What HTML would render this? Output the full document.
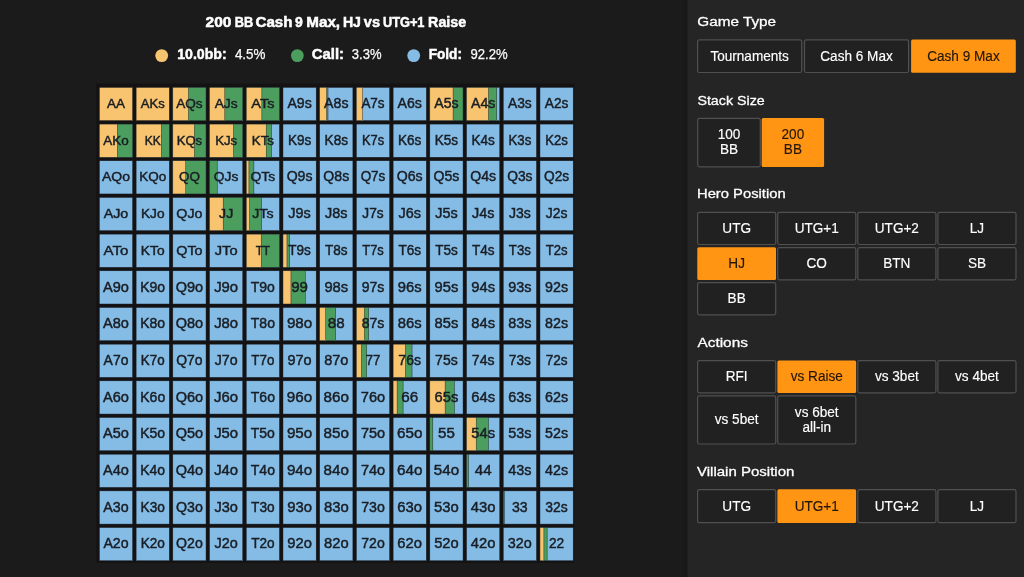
<!DOCTYPE html>
<html><head><meta charset="utf-8"><title>Range viewer</title>
<style>
html,body{margin:0;padding:0;}
body{width:1024px;height:577px;overflow:hidden;background:#1b1b1b;position:relative;font-family:"Liberation Sans",sans-serif;}
svg{position:absolute;left:0;top:0;display:block;}
text{font-family:"Liberation Sans",sans-serif;white-space:pre;}
</style></head><body>
<svg width="1024" height="577" viewBox="0 0 1024 577">
<rect x="0" y="0" width="1024" height="577" fill="#1b1b1b"/>
<defs><linearGradient id="sh" x1="0" x2="1" y1="0" y2="0"><stop offset="0" stop-color="#1b1b1b"/><stop offset="0.5" stop-color="#191919"/><stop offset="1" stop-color="#171717"/></linearGradient></defs>
<rect x="680.5" y="0" width="7" height="577" fill="url(#sh)"/>
<rect x="687.4" y="0" width="336.6" height="577" fill="#252525"/>
<g font-weight="bold" font-size="13.8" fill="#fff" stroke="#fff" stroke-width="0.5"><text y="26.6"><tspan x="205.55" textLength="25.85" lengthAdjust="spacingAndGlyphs">200</tspan> <tspan x="234.70" textLength="18.50" lengthAdjust="spacingAndGlyphs">BB</tspan> <tspan x="255.50" textLength="37.00" lengthAdjust="spacingAndGlyphs">Cash</tspan> <tspan x="295.10" textLength="7.80" lengthAdjust="spacingAndGlyphs">9</tspan> <tspan x="306.30" textLength="33.80" lengthAdjust="spacingAndGlyphs">Max,</tspan> <tspan x="342.90" textLength="18.00" lengthAdjust="spacingAndGlyphs">HJ</tspan> <tspan x="363.80" textLength="16.20" lengthAdjust="spacingAndGlyphs">vs</tspan> <tspan x="382.90" textLength="41.60" lengthAdjust="spacingAndGlyphs">UTG+1</tspan> <tspan x="428.10" textLength="38.10" lengthAdjust="spacingAndGlyphs">Raise</tspan></text></g>
<circle cx="161.7" cy="55.6" r="6.4" fill="#f8c470"/><circle cx="297.35" cy="55.6" r="6.4" fill="#4b9e5e"/><circle cx="413.7" cy="55.6" r="6.4" fill="#84bce6"/>
<g font-weight="bold" font-size="13.8" fill="#fff" stroke="#fff" stroke-width="0.45"><text x="177.20" y="59.4" textLength="49.50" lengthAdjust="spacingAndGlyphs">10.0bb:</text><text x="311.80" y="59.4" textLength="32.20" lengthAdjust="spacingAndGlyphs">Call:</text><text x="428.70" y="59.4" textLength="33.30" lengthAdjust="spacingAndGlyphs">Fold:</text></g>
<g font-size="14.6" fill="#fafafa" stroke="#fafafa" stroke-width="0.25"><text x="234.90" y="59.4" textLength="30.60" lengthAdjust="spacingAndGlyphs">4.5%</text><text x="351.80" y="59.4" textLength="29.70" lengthAdjust="spacingAndGlyphs">3.3%</text><text x="470.50" y="59.4" textLength="37.20" lengthAdjust="spacingAndGlyphs">92.2%</text></g>
<rect x="96.4" y="83.6" width="477.8" height="479.2" fill="#141212"/>
<g font-size="13.1" text-anchor="middle" fill="#1a1e24" stroke="#1a1e24" stroke-width="0.45">
<rect x="99.40" y="87.40" width="33.2" height="33.2" fill="#f8c470"/><text x="116.00" y="108.10" textLength="17.97" lengthAdjust="spacingAndGlyphs">AA</text>
<rect x="136.12" y="87.40" width="33.2" height="33.2" fill="#f8c470"/><text x="152.72" y="108.10" textLength="23.92" lengthAdjust="spacingAndGlyphs">AKs</text>
<rect x="172.83" y="87.40" width="33.2" height="33.2" fill="#84bce6"/><rect x="172.83" y="87.40" width="33.20" height="33.2" fill="#4b9e5e"/><rect x="172.83" y="87.40" width="15.60" height="33.2" fill="#f8c470"/><text x="189.43" y="108.10" textLength="26.44" lengthAdjust="spacingAndGlyphs">AQs</text>
<rect x="209.55" y="87.40" width="33.2" height="33.2" fill="#84bce6"/><rect x="209.55" y="87.40" width="33.20" height="33.2" fill="#4b9e5e"/><rect x="209.55" y="87.40" width="15.27" height="33.2" fill="#f8c470"/><text x="226.15" y="108.10" textLength="23.01" lengthAdjust="spacingAndGlyphs">AJs</text>
<rect x="246.26" y="87.40" width="33.2" height="33.2" fill="#84bce6"/><rect x="246.26" y="87.40" width="33.20" height="33.2" fill="#4b9e5e"/><rect x="246.26" y="87.40" width="15.60" height="33.2" fill="#f8c470"/><text x="262.86" y="108.10" textLength="23.15" lengthAdjust="spacingAndGlyphs">ATs</text>
<rect x="282.98" y="87.40" width="33.2" height="33.2" fill="#84bce6"/><text x="299.58" y="108.10" textLength="24.34" lengthAdjust="spacingAndGlyphs" font-size="13.8">A9s</text>
<rect x="319.69" y="87.40" width="33.2" height="33.2" fill="#84bce6"/><rect x="319.69" y="87.40" width="8.30" height="33.2" fill="#4b9e5e"/><rect x="319.69" y="87.40" width="6.97" height="33.2" fill="#f8c470"/><text x="336.29" y="108.10" textLength="24.35" lengthAdjust="spacingAndGlyphs" font-size="13.8">A8s</text>
<rect x="356.40" y="87.40" width="33.2" height="33.2" fill="#84bce6"/><rect x="356.40" y="87.40" width="6.31" height="33.2" fill="#f8c470"/><text x="373.00" y="108.10" textLength="23.22" lengthAdjust="spacingAndGlyphs" font-size="13.8">A7s</text>
<rect x="393.12" y="87.40" width="33.2" height="33.2" fill="#84bce6"/><text x="409.72" y="108.10" textLength="24.41" lengthAdjust="spacingAndGlyphs" font-size="13.8">A6s</text>
<rect x="429.84" y="87.40" width="33.2" height="33.2" fill="#84bce6"/><rect x="429.84" y="87.40" width="33.20" height="33.2" fill="#4b9e5e"/><rect x="429.84" y="87.40" width="23.24" height="33.2" fill="#f8c470"/><text x="446.44" y="108.10" textLength="24.31" lengthAdjust="spacingAndGlyphs" font-size="13.8">A5s</text>
<rect x="466.55" y="87.40" width="33.2" height="33.2" fill="#84bce6"/><rect x="466.55" y="87.40" width="30.21" height="33.2" fill="#4b9e5e"/><rect x="466.55" y="87.40" width="21.91" height="33.2" fill="#f8c470"/><text x="483.15" y="108.10" textLength="24.32" lengthAdjust="spacingAndGlyphs" font-size="13.8">A4s</text>
<rect x="503.26" y="87.40" width="33.2" height="33.2" fill="#84bce6"/><text x="519.87" y="108.10" textLength="23.79" lengthAdjust="spacingAndGlyphs" font-size="13.8">A3s</text>
<rect x="539.98" y="87.40" width="33.2" height="33.2" fill="#84bce6"/><text x="556.58" y="108.10" textLength="23.60" lengthAdjust="spacingAndGlyphs" font-size="13.8">A2s</text>
<rect x="99.40" y="124.08" width="33.2" height="33.2" fill="#84bce6"/><rect x="99.40" y="124.08" width="33.20" height="33.2" fill="#4b9e5e"/><rect x="99.40" y="124.08" width="17.93" height="33.2" fill="#f8c470"/><text x="116.00" y="144.78" textLength="25.50" lengthAdjust="spacingAndGlyphs">AKo</text>
<rect x="136.12" y="124.08" width="33.2" height="33.2" fill="#84bce6"/><rect x="136.12" y="124.08" width="33.20" height="33.2" fill="#4b9e5e"/><rect x="136.12" y="124.08" width="25.23" height="33.2" fill="#f8c470"/><text x="152.72" y="144.78" textLength="15.97" lengthAdjust="spacingAndGlyphs">KK</text>
<rect x="172.83" y="124.08" width="33.2" height="33.2" fill="#84bce6"/><rect x="172.83" y="124.08" width="33.20" height="33.2" fill="#4b9e5e"/><rect x="172.83" y="124.08" width="21.58" height="33.2" fill="#f8c470"/><text x="189.43" y="144.78" textLength="25.44" lengthAdjust="spacingAndGlyphs">KQs</text>
<rect x="209.55" y="124.08" width="33.2" height="33.2" fill="#84bce6"/><rect x="209.55" y="124.08" width="33.20" height="33.2" fill="#4b9e5e"/><rect x="209.55" y="124.08" width="23.90" height="33.2" fill="#f8c470"/><text x="226.15" y="144.78" textLength="22.01" lengthAdjust="spacingAndGlyphs">KJs</text>
<rect x="246.26" y="124.08" width="33.2" height="33.2" fill="#84bce6"/><rect x="246.26" y="124.08" width="25.23" height="33.2" fill="#4b9e5e"/><rect x="246.26" y="124.08" width="19.92" height="33.2" fill="#f8c470"/><text x="262.86" y="144.78" textLength="22.15" lengthAdjust="spacingAndGlyphs">KTs</text>
<rect x="282.98" y="124.08" width="33.2" height="33.2" fill="#84bce6"/><text x="299.58" y="144.78" textLength="23.34" lengthAdjust="spacingAndGlyphs" font-size="13.8">K9s</text>
<rect x="319.69" y="124.08" width="33.2" height="33.2" fill="#84bce6"/><text x="336.29" y="144.78" textLength="23.35" lengthAdjust="spacingAndGlyphs" font-size="13.8">K8s</text>
<rect x="356.40" y="124.08" width="33.2" height="33.2" fill="#84bce6"/><text x="373.00" y="144.78" textLength="22.22" lengthAdjust="spacingAndGlyphs" font-size="13.8">K7s</text>
<rect x="393.12" y="124.08" width="33.2" height="33.2" fill="#84bce6"/><text x="409.72" y="144.78" textLength="23.41" lengthAdjust="spacingAndGlyphs" font-size="13.8">K6s</text>
<rect x="429.84" y="124.08" width="33.2" height="33.2" fill="#84bce6"/><text x="446.44" y="144.78" textLength="23.31" lengthAdjust="spacingAndGlyphs" font-size="13.8">K5s</text>
<rect x="466.55" y="124.08" width="33.2" height="33.2" fill="#84bce6"/><text x="483.15" y="144.78" textLength="23.32" lengthAdjust="spacingAndGlyphs" font-size="13.8">K4s</text>
<rect x="503.26" y="124.08" width="33.2" height="33.2" fill="#84bce6"/><text x="519.87" y="144.78" textLength="22.79" lengthAdjust="spacingAndGlyphs" font-size="13.8">K3s</text>
<rect x="539.98" y="124.08" width="33.2" height="33.2" fill="#84bce6"/><text x="556.58" y="144.78" textLength="22.60" lengthAdjust="spacingAndGlyphs" font-size="13.8">K2s</text>
<rect x="99.40" y="160.76" width="33.2" height="33.2" fill="#84bce6"/><text x="116.00" y="181.46" textLength="28.02" lengthAdjust="spacingAndGlyphs">AQo</text>
<rect x="136.12" y="160.76" width="33.2" height="33.2" fill="#84bce6"/><text x="152.72" y="181.46" textLength="27.02" lengthAdjust="spacingAndGlyphs">KQo</text>
<rect x="172.83" y="160.76" width="33.2" height="33.2" fill="#84bce6"/><rect x="172.83" y="160.76" width="33.20" height="33.2" fill="#4b9e5e"/><rect x="172.83" y="160.76" width="12.95" height="33.2" fill="#f8c470"/><text x="189.43" y="181.46" textLength="21.01" lengthAdjust="spacingAndGlyphs">QQ</text>
<rect x="209.55" y="160.76" width="33.2" height="33.2" fill="#84bce6"/><rect x="209.55" y="160.76" width="7.64" height="33.2" fill="#4b9e5e"/><text x="226.15" y="181.46" textLength="24.52" lengthAdjust="spacingAndGlyphs">QJs</text>
<rect x="246.26" y="160.76" width="33.2" height="33.2" fill="#84bce6"/><rect x="246.26" y="160.76" width="7.64" height="33.2" fill="#4b9e5e"/><rect x="246.26" y="160.76" width="2.66" height="33.2" fill="#f8c470"/><text x="262.86" y="181.46" textLength="24.67" lengthAdjust="spacingAndGlyphs">QTs</text>
<rect x="282.98" y="160.76" width="33.2" height="33.2" fill="#84bce6"/><text x="299.58" y="181.46" textLength="25.86" lengthAdjust="spacingAndGlyphs" font-size="13.8">Q9s</text>
<rect x="319.69" y="160.76" width="33.2" height="33.2" fill="#84bce6"/><text x="336.29" y="181.46" textLength="25.87" lengthAdjust="spacingAndGlyphs" font-size="13.8">Q8s</text>
<rect x="356.40" y="160.76" width="33.2" height="33.2" fill="#84bce6"/><text x="373.00" y="181.46" textLength="24.74" lengthAdjust="spacingAndGlyphs" font-size="13.8">Q7s</text>
<rect x="393.12" y="160.76" width="33.2" height="33.2" fill="#84bce6"/><text x="409.72" y="181.46" textLength="25.92" lengthAdjust="spacingAndGlyphs" font-size="13.8">Q6s</text>
<rect x="429.84" y="160.76" width="33.2" height="33.2" fill="#84bce6"/><text x="446.44" y="181.46" textLength="25.83" lengthAdjust="spacingAndGlyphs" font-size="13.8">Q5s</text>
<rect x="466.55" y="160.76" width="33.2" height="33.2" fill="#84bce6"/><text x="483.15" y="181.46" textLength="25.84" lengthAdjust="spacingAndGlyphs" font-size="13.8">Q4s</text>
<rect x="503.26" y="160.76" width="33.2" height="33.2" fill="#84bce6"/><text x="519.87" y="181.46" textLength="25.31" lengthAdjust="spacingAndGlyphs" font-size="13.8">Q3s</text>
<rect x="539.98" y="160.76" width="33.2" height="33.2" fill="#84bce6"/><text x="556.58" y="181.46" textLength="25.12" lengthAdjust="spacingAndGlyphs" font-size="13.8">Q2s</text>
<rect x="99.40" y="197.44" width="33.2" height="33.2" fill="#84bce6"/><text x="116.00" y="218.14" textLength="24.58" lengthAdjust="spacingAndGlyphs">AJo</text>
<rect x="136.12" y="197.44" width="33.2" height="33.2" fill="#84bce6"/><text x="152.72" y="218.14" textLength="23.58" lengthAdjust="spacingAndGlyphs">KJo</text>
<rect x="172.83" y="197.44" width="33.2" height="33.2" fill="#84bce6"/><text x="189.43" y="218.14" textLength="26.10" lengthAdjust="spacingAndGlyphs">QJo</text>
<rect x="209.55" y="197.44" width="33.2" height="33.2" fill="#84bce6"/><rect x="209.55" y="197.44" width="33.20" height="33.2" fill="#4b9e5e"/><rect x="209.55" y="197.44" width="13.61" height="33.2" fill="#f8c470"/><text x="226.15" y="218.14" textLength="14.13" lengthAdjust="spacingAndGlyphs">JJ</text>
<rect x="246.26" y="197.44" width="33.2" height="33.2" fill="#84bce6"/><rect x="246.26" y="197.44" width="15.27" height="33.2" fill="#4b9e5e"/><rect x="246.26" y="197.44" width="3.32" height="33.2" fill="#f8c470"/><text x="262.86" y="218.14" textLength="21.23" lengthAdjust="spacingAndGlyphs">JTs</text>
<rect x="282.98" y="197.44" width="33.2" height="33.2" fill="#84bce6"/><text x="299.58" y="218.14" textLength="22.42" lengthAdjust="spacingAndGlyphs" font-size="13.8">J9s</text>
<rect x="319.69" y="197.44" width="33.2" height="33.2" fill="#84bce6"/><text x="336.29" y="218.14" textLength="22.43" lengthAdjust="spacingAndGlyphs" font-size="13.8">J8s</text>
<rect x="356.40" y="197.44" width="33.2" height="33.2" fill="#84bce6"/><text x="373.00" y="218.14" textLength="21.30" lengthAdjust="spacingAndGlyphs" font-size="13.8">J7s</text>
<rect x="393.12" y="197.44" width="33.2" height="33.2" fill="#84bce6"/><text x="409.72" y="218.14" textLength="22.48" lengthAdjust="spacingAndGlyphs" font-size="13.8">J6s</text>
<rect x="429.84" y="197.44" width="33.2" height="33.2" fill="#84bce6"/><text x="446.44" y="218.14" textLength="22.39" lengthAdjust="spacingAndGlyphs" font-size="13.8">J5s</text>
<rect x="466.55" y="197.44" width="33.2" height="33.2" fill="#84bce6"/><text x="483.15" y="218.14" textLength="22.41" lengthAdjust="spacingAndGlyphs" font-size="13.8">J4s</text>
<rect x="503.26" y="197.44" width="33.2" height="33.2" fill="#84bce6"/><text x="519.87" y="218.14" textLength="21.87" lengthAdjust="spacingAndGlyphs" font-size="13.8">J3s</text>
<rect x="539.98" y="197.44" width="33.2" height="33.2" fill="#84bce6"/><text x="556.58" y="218.14" textLength="21.69" lengthAdjust="spacingAndGlyphs" font-size="13.8">J2s</text>
<rect x="99.40" y="234.12" width="33.2" height="33.2" fill="#84bce6"/><text x="116.00" y="254.82" textLength="24.72" lengthAdjust="spacingAndGlyphs">ATo</text>
<rect x="136.12" y="234.12" width="33.2" height="33.2" fill="#84bce6"/><text x="152.72" y="254.82" textLength="23.73" lengthAdjust="spacingAndGlyphs">KTo</text>
<rect x="172.83" y="234.12" width="33.2" height="33.2" fill="#84bce6"/><text x="189.43" y="254.82" textLength="26.24" lengthAdjust="spacingAndGlyphs">QTo</text>
<rect x="209.55" y="234.12" width="33.2" height="33.2" fill="#84bce6"/><text x="226.15" y="254.82" textLength="22.80" lengthAdjust="spacingAndGlyphs">JTo</text>
<rect x="246.26" y="234.12" width="33.2" height="33.2" fill="#84bce6"/><rect x="246.26" y="234.12" width="33.20" height="33.2" fill="#4b9e5e"/><rect x="246.26" y="234.12" width="14.94" height="33.2" fill="#f8c470"/><text x="262.86" y="254.82" textLength="14.42" lengthAdjust="spacingAndGlyphs">TT</text>
<rect x="282.98" y="234.12" width="33.2" height="33.2" fill="#84bce6"/><rect x="282.98" y="234.12" width="6.64" height="33.2" fill="#4b9e5e"/><rect x="282.98" y="234.12" width="3.98" height="33.2" fill="#f8c470"/><text x="299.58" y="254.82" textLength="22.56" lengthAdjust="spacingAndGlyphs" font-size="13.8">T9s</text>
<rect x="319.69" y="234.12" width="33.2" height="33.2" fill="#84bce6"/><text x="336.29" y="254.82" textLength="22.58" lengthAdjust="spacingAndGlyphs" font-size="13.8">T8s</text>
<rect x="356.40" y="234.12" width="33.2" height="33.2" fill="#84bce6"/><text x="373.00" y="254.82" textLength="21.45" lengthAdjust="spacingAndGlyphs" font-size="13.8">T7s</text>
<rect x="393.12" y="234.12" width="33.2" height="33.2" fill="#84bce6"/><text x="409.72" y="254.82" textLength="22.63" lengthAdjust="spacingAndGlyphs" font-size="13.8">T6s</text>
<rect x="429.84" y="234.12" width="33.2" height="33.2" fill="#84bce6"/><text x="446.44" y="254.82" textLength="22.54" lengthAdjust="spacingAndGlyphs" font-size="13.8">T5s</text>
<rect x="466.55" y="234.12" width="33.2" height="33.2" fill="#84bce6"/><text x="483.15" y="254.82" textLength="22.55" lengthAdjust="spacingAndGlyphs" font-size="13.8">T4s</text>
<rect x="503.26" y="234.12" width="33.2" height="33.2" fill="#84bce6"/><text x="519.87" y="254.82" textLength="22.02" lengthAdjust="spacingAndGlyphs" font-size="13.8">T3s</text>
<rect x="539.98" y="234.12" width="33.2" height="33.2" fill="#84bce6"/><text x="556.58" y="254.82" textLength="21.83" lengthAdjust="spacingAndGlyphs" font-size="13.8">T2s</text>
<rect x="99.40" y="270.80" width="33.2" height="33.2" fill="#84bce6"/><text x="116.00" y="291.50" textLength="25.91" lengthAdjust="spacingAndGlyphs" font-size="13.8">A9o</text>
<rect x="136.12" y="270.80" width="33.2" height="33.2" fill="#84bce6"/><text x="152.72" y="291.50" textLength="24.91" lengthAdjust="spacingAndGlyphs" font-size="13.8">K9o</text>
<rect x="172.83" y="270.80" width="33.2" height="33.2" fill="#84bce6"/><text x="189.43" y="291.50" textLength="27.43" lengthAdjust="spacingAndGlyphs" font-size="13.8">Q9o</text>
<rect x="209.55" y="270.80" width="33.2" height="33.2" fill="#84bce6"/><text x="226.15" y="291.50" textLength="23.99" lengthAdjust="spacingAndGlyphs" font-size="13.8">J9o</text>
<rect x="246.26" y="270.80" width="33.2" height="33.2" fill="#84bce6"/><text x="262.86" y="291.50" textLength="24.14" lengthAdjust="spacingAndGlyphs" font-size="13.8">T9o</text>
<rect x="282.98" y="270.80" width="33.2" height="33.2" fill="#84bce6"/><rect x="282.98" y="270.80" width="22.24" height="33.2" fill="#4b9e5e"/><rect x="282.98" y="270.80" width="7.97" height="33.2" fill="#f8c470"/><text x="299.58" y="291.50" textLength="16.79" lengthAdjust="spacingAndGlyphs" font-size="14.2">99</text>
<rect x="319.69" y="270.80" width="33.2" height="33.2" fill="#84bce6"/><text x="336.29" y="291.50" textLength="23.77" lengthAdjust="spacingAndGlyphs" font-size="13.8">98s</text>
<rect x="356.40" y="270.80" width="33.2" height="33.2" fill="#84bce6"/><text x="373.00" y="291.50" textLength="22.63" lengthAdjust="spacingAndGlyphs" font-size="13.8">97s</text>
<rect x="393.12" y="270.80" width="33.2" height="33.2" fill="#84bce6"/><text x="409.72" y="291.50" textLength="23.82" lengthAdjust="spacingAndGlyphs" font-size="13.8">96s</text>
<rect x="429.84" y="270.80" width="33.2" height="33.2" fill="#84bce6"/><text x="446.44" y="291.50" textLength="23.73" lengthAdjust="spacingAndGlyphs" font-size="13.8">95s</text>
<rect x="466.55" y="270.80" width="33.2" height="33.2" fill="#84bce6"/><text x="483.15" y="291.50" textLength="23.74" lengthAdjust="spacingAndGlyphs" font-size="13.8">94s</text>
<rect x="503.26" y="270.80" width="33.2" height="33.2" fill="#84bce6"/><text x="519.87" y="291.50" textLength="23.20" lengthAdjust="spacingAndGlyphs" font-size="13.8">93s</text>
<rect x="539.98" y="270.80" width="33.2" height="33.2" fill="#84bce6"/><text x="556.58" y="291.50" textLength="23.02" lengthAdjust="spacingAndGlyphs" font-size="13.8">92s</text>
<rect x="99.40" y="307.48" width="33.2" height="33.2" fill="#84bce6"/><text x="116.00" y="328.18" textLength="25.92" lengthAdjust="spacingAndGlyphs" font-size="13.8">A8o</text>
<rect x="136.12" y="307.48" width="33.2" height="33.2" fill="#84bce6"/><text x="152.72" y="328.18" textLength="24.92" lengthAdjust="spacingAndGlyphs" font-size="13.8">K8o</text>
<rect x="172.83" y="307.48" width="33.2" height="33.2" fill="#84bce6"/><text x="189.43" y="328.18" textLength="27.44" lengthAdjust="spacingAndGlyphs" font-size="13.8">Q8o</text>
<rect x="209.55" y="307.48" width="33.2" height="33.2" fill="#84bce6"/><text x="226.15" y="328.18" textLength="24.00" lengthAdjust="spacingAndGlyphs" font-size="13.8">J8o</text>
<rect x="246.26" y="307.48" width="33.2" height="33.2" fill="#84bce6"/><text x="262.86" y="328.18" textLength="24.15" lengthAdjust="spacingAndGlyphs" font-size="13.8">T8o</text>
<rect x="282.98" y="307.48" width="33.2" height="33.2" fill="#84bce6"/><text x="299.58" y="328.18" textLength="25.34" lengthAdjust="spacingAndGlyphs" font-size="13.8">98o</text>
<rect x="319.69" y="307.48" width="33.2" height="33.2" fill="#84bce6"/><rect x="319.69" y="307.48" width="15.94" height="33.2" fill="#4b9e5e"/><rect x="319.69" y="307.48" width="5.98" height="33.2" fill="#f8c470"/><text x="336.29" y="328.18" textLength="16.82" lengthAdjust="spacingAndGlyphs" font-size="14.2">88</text>
<rect x="356.40" y="307.48" width="33.2" height="33.2" fill="#84bce6"/><rect x="356.40" y="307.48" width="12.28" height="33.2" fill="#4b9e5e"/><rect x="356.40" y="307.48" width="7.97" height="33.2" fill="#f8c470"/><text x="373.00" y="328.18" textLength="22.65" lengthAdjust="spacingAndGlyphs" font-size="13.8">87s</text>
<rect x="393.12" y="307.48" width="33.2" height="33.2" fill="#84bce6"/><text x="409.72" y="328.18" textLength="23.83" lengthAdjust="spacingAndGlyphs" font-size="13.8">86s</text>
<rect x="429.84" y="307.48" width="33.2" height="33.2" fill="#84bce6"/><text x="446.44" y="328.18" textLength="23.74" lengthAdjust="spacingAndGlyphs" font-size="13.8">85s</text>
<rect x="466.55" y="307.48" width="33.2" height="33.2" fill="#84bce6"/><text x="483.15" y="328.18" textLength="23.75" lengthAdjust="spacingAndGlyphs" font-size="13.8">84s</text>
<rect x="503.26" y="307.48" width="33.2" height="33.2" fill="#84bce6"/><text x="519.87" y="328.18" textLength="23.22" lengthAdjust="spacingAndGlyphs" font-size="13.8">83s</text>
<rect x="539.98" y="307.48" width="33.2" height="33.2" fill="#84bce6"/><text x="556.58" y="328.18" textLength="23.03" lengthAdjust="spacingAndGlyphs" font-size="13.8">82s</text>
<rect x="99.40" y="344.16" width="33.2" height="33.2" fill="#84bce6"/><text x="116.00" y="364.86" textLength="24.79" lengthAdjust="spacingAndGlyphs" font-size="13.8">A7o</text>
<rect x="136.12" y="344.16" width="33.2" height="33.2" fill="#84bce6"/><text x="152.72" y="364.86" textLength="23.79" lengthAdjust="spacingAndGlyphs" font-size="13.8">K7o</text>
<rect x="172.83" y="344.16" width="33.2" height="33.2" fill="#84bce6"/><text x="189.43" y="364.86" textLength="26.31" lengthAdjust="spacingAndGlyphs" font-size="13.8">Q7o</text>
<rect x="209.55" y="344.16" width="33.2" height="33.2" fill="#84bce6"/><text x="226.15" y="364.86" textLength="22.87" lengthAdjust="spacingAndGlyphs" font-size="13.8">J7o</text>
<rect x="246.26" y="344.16" width="33.2" height="33.2" fill="#84bce6"/><text x="262.86" y="364.86" textLength="23.02" lengthAdjust="spacingAndGlyphs" font-size="13.8">T7o</text>
<rect x="282.98" y="344.16" width="33.2" height="33.2" fill="#84bce6"/><text x="299.58" y="364.86" textLength="24.20" lengthAdjust="spacingAndGlyphs" font-size="13.8">97o</text>
<rect x="319.69" y="344.16" width="33.2" height="33.2" fill="#84bce6"/><text x="336.29" y="364.86" textLength="24.22" lengthAdjust="spacingAndGlyphs" font-size="13.8">87o</text>
<rect x="356.40" y="344.16" width="33.2" height="33.2" fill="#84bce6"/><rect x="356.40" y="344.16" width="10.29" height="33.2" fill="#4b9e5e"/><rect x="356.40" y="344.16" width="4.98" height="33.2" fill="#f8c470"/><text x="373.00" y="364.86" textLength="14.55" lengthAdjust="spacingAndGlyphs" font-size="14.2">77</text>
<rect x="393.12" y="344.16" width="33.2" height="33.2" fill="#84bce6"/><rect x="393.12" y="344.16" width="18.92" height="33.2" fill="#4b9e5e"/><rect x="393.12" y="344.16" width="12.28" height="33.2" fill="#f8c470"/><text x="409.72" y="364.86" textLength="22.70" lengthAdjust="spacingAndGlyphs" font-size="13.8">76s</text>
<rect x="429.84" y="344.16" width="33.2" height="33.2" fill="#84bce6"/><text x="446.44" y="364.86" textLength="22.60" lengthAdjust="spacingAndGlyphs" font-size="13.8">75s</text>
<rect x="466.55" y="344.16" width="33.2" height="33.2" fill="#84bce6"/><text x="483.15" y="364.86" textLength="22.62" lengthAdjust="spacingAndGlyphs" font-size="13.8">74s</text>
<rect x="503.26" y="344.16" width="33.2" height="33.2" fill="#84bce6"/><text x="519.87" y="364.86" textLength="22.09" lengthAdjust="spacingAndGlyphs" font-size="13.8">73s</text>
<rect x="539.98" y="344.16" width="33.2" height="33.2" fill="#84bce6"/><text x="556.58" y="364.86" textLength="21.90" lengthAdjust="spacingAndGlyphs" font-size="13.8">72s</text>
<rect x="99.40" y="380.84" width="33.2" height="33.2" fill="#84bce6"/><text x="116.00" y="401.54" textLength="25.98" lengthAdjust="spacingAndGlyphs" font-size="13.8">A6o</text>
<rect x="136.12" y="380.84" width="33.2" height="33.2" fill="#84bce6"/><text x="152.72" y="401.54" textLength="24.98" lengthAdjust="spacingAndGlyphs" font-size="13.8">K6o</text>
<rect x="172.83" y="380.84" width="33.2" height="33.2" fill="#84bce6"/><text x="189.43" y="401.54" textLength="27.50" lengthAdjust="spacingAndGlyphs" font-size="13.8">Q6o</text>
<rect x="209.55" y="380.84" width="33.2" height="33.2" fill="#84bce6"/><text x="226.15" y="401.54" textLength="24.06" lengthAdjust="spacingAndGlyphs" font-size="13.8">J6o</text>
<rect x="246.26" y="380.84" width="33.2" height="33.2" fill="#84bce6"/><text x="262.86" y="401.54" textLength="24.20" lengthAdjust="spacingAndGlyphs" font-size="13.8">T6o</text>
<rect x="282.98" y="380.84" width="33.2" height="33.2" fill="#84bce6"/><text x="299.58" y="401.54" textLength="25.39" lengthAdjust="spacingAndGlyphs" font-size="13.8">96o</text>
<rect x="319.69" y="380.84" width="33.2" height="33.2" fill="#84bce6"/><text x="336.29" y="401.54" textLength="25.40" lengthAdjust="spacingAndGlyphs" font-size="13.8">86o</text>
<rect x="356.40" y="380.84" width="33.2" height="33.2" fill="#84bce6"/><text x="373.00" y="401.54" textLength="24.27" lengthAdjust="spacingAndGlyphs" font-size="13.8">76o</text>
<rect x="393.12" y="380.84" width="33.2" height="33.2" fill="#84bce6"/><rect x="393.12" y="380.84" width="9.96" height="33.2" fill="#4b9e5e"/><rect x="393.12" y="380.84" width="3.98" height="33.2" fill="#f8c470"/><text x="409.72" y="401.54" textLength="16.93" lengthAdjust="spacingAndGlyphs" font-size="14.2">66</text>
<rect x="429.84" y="380.84" width="33.2" height="33.2" fill="#84bce6"/><rect x="429.84" y="380.84" width="24.57" height="33.2" fill="#4b9e5e"/><rect x="429.84" y="380.84" width="15.27" height="33.2" fill="#f8c470"/><text x="446.44" y="401.54" textLength="23.79" lengthAdjust="spacingAndGlyphs" font-size="13.8">65s</text>
<rect x="466.55" y="380.84" width="33.2" height="33.2" fill="#84bce6"/><text x="483.15" y="401.54" textLength="23.80" lengthAdjust="spacingAndGlyphs" font-size="13.8">64s</text>
<rect x="503.26" y="380.84" width="33.2" height="33.2" fill="#84bce6"/><text x="519.87" y="401.54" textLength="23.27" lengthAdjust="spacingAndGlyphs" font-size="13.8">63s</text>
<rect x="539.98" y="380.84" width="33.2" height="33.2" fill="#84bce6"/><text x="556.58" y="401.54" textLength="23.09" lengthAdjust="spacingAndGlyphs" font-size="13.8">62s</text>
<rect x="99.40" y="417.52" width="33.2" height="33.2" fill="#84bce6"/><text x="116.00" y="438.22" textLength="25.88" lengthAdjust="spacingAndGlyphs" font-size="13.8">A5o</text>
<rect x="136.12" y="417.52" width="33.2" height="33.2" fill="#84bce6"/><text x="152.72" y="438.22" textLength="24.88" lengthAdjust="spacingAndGlyphs" font-size="13.8">K5o</text>
<rect x="172.83" y="417.52" width="33.2" height="33.2" fill="#84bce6"/><text x="189.43" y="438.22" textLength="27.40" lengthAdjust="spacingAndGlyphs" font-size="13.8">Q5o</text>
<rect x="209.55" y="417.52" width="33.2" height="33.2" fill="#84bce6"/><text x="226.15" y="438.22" textLength="23.96" lengthAdjust="spacingAndGlyphs" font-size="13.8">J5o</text>
<rect x="246.26" y="417.52" width="33.2" height="33.2" fill="#84bce6"/><text x="262.86" y="438.22" textLength="24.11" lengthAdjust="spacingAndGlyphs" font-size="13.8">T5o</text>
<rect x="282.98" y="417.52" width="33.2" height="33.2" fill="#84bce6"/><text x="299.58" y="438.22" textLength="25.30" lengthAdjust="spacingAndGlyphs" font-size="13.8">95o</text>
<rect x="319.69" y="417.52" width="33.2" height="33.2" fill="#84bce6"/><text x="336.29" y="438.22" textLength="25.31" lengthAdjust="spacingAndGlyphs" font-size="13.8">85o</text>
<rect x="356.40" y="417.52" width="33.2" height="33.2" fill="#84bce6"/><text x="373.00" y="438.22" textLength="24.18" lengthAdjust="spacingAndGlyphs" font-size="13.8">75o</text>
<rect x="393.12" y="417.52" width="33.2" height="33.2" fill="#84bce6"/><text x="409.72" y="438.22" textLength="25.36" lengthAdjust="spacingAndGlyphs" font-size="13.8">65o</text>
<rect x="429.84" y="417.52" width="33.2" height="33.2" fill="#84bce6"/><rect x="429.84" y="417.52" width="2.99" height="33.2" fill="#4b9e5e"/><text x="446.44" y="438.22" textLength="16.74" lengthAdjust="spacingAndGlyphs" font-size="14.2">55</text>
<rect x="466.55" y="417.52" width="33.2" height="33.2" fill="#84bce6"/><rect x="466.55" y="417.52" width="21.91" height="33.2" fill="#4b9e5e"/><rect x="466.55" y="417.52" width="9.63" height="33.2" fill="#f8c470"/><text x="483.15" y="438.22" textLength="23.71" lengthAdjust="spacingAndGlyphs" font-size="13.8">54s</text>
<rect x="503.26" y="417.52" width="33.2" height="33.2" fill="#84bce6"/><text x="519.87" y="438.22" textLength="23.18" lengthAdjust="spacingAndGlyphs" font-size="13.8">53s</text>
<rect x="539.98" y="417.52" width="33.2" height="33.2" fill="#84bce6"/><text x="556.58" y="438.22" textLength="22.99" lengthAdjust="spacingAndGlyphs" font-size="13.8">52s</text>
<rect x="99.40" y="454.20" width="33.2" height="33.2" fill="#84bce6"/><text x="116.00" y="474.90" textLength="25.90" lengthAdjust="spacingAndGlyphs" font-size="13.8">A4o</text>
<rect x="136.12" y="454.20" width="33.2" height="33.2" fill="#84bce6"/><text x="152.72" y="474.90" textLength="24.90" lengthAdjust="spacingAndGlyphs" font-size="13.8">K4o</text>
<rect x="172.83" y="454.20" width="33.2" height="33.2" fill="#84bce6"/><text x="189.43" y="474.90" textLength="27.42" lengthAdjust="spacingAndGlyphs" font-size="13.8">Q4o</text>
<rect x="209.55" y="454.20" width="33.2" height="33.2" fill="#84bce6"/><text x="226.15" y="474.90" textLength="23.98" lengthAdjust="spacingAndGlyphs" font-size="13.8">J4o</text>
<rect x="246.26" y="454.20" width="33.2" height="33.2" fill="#84bce6"/><text x="262.86" y="474.90" textLength="24.12" lengthAdjust="spacingAndGlyphs" font-size="13.8">T4o</text>
<rect x="282.98" y="454.20" width="33.2" height="33.2" fill="#84bce6"/><text x="299.58" y="474.90" textLength="25.31" lengthAdjust="spacingAndGlyphs" font-size="13.8">94o</text>
<rect x="319.69" y="454.20" width="33.2" height="33.2" fill="#84bce6"/><text x="336.29" y="474.90" textLength="25.32" lengthAdjust="spacingAndGlyphs" font-size="13.8">84o</text>
<rect x="356.40" y="454.20" width="33.2" height="33.2" fill="#84bce6"/><text x="373.00" y="474.90" textLength="24.19" lengthAdjust="spacingAndGlyphs" font-size="13.8">74o</text>
<rect x="393.12" y="454.20" width="33.2" height="33.2" fill="#84bce6"/><text x="409.72" y="474.90" textLength="25.38" lengthAdjust="spacingAndGlyphs" font-size="13.8">64o</text>
<rect x="429.84" y="454.20" width="33.2" height="33.2" fill="#84bce6"/><text x="446.44" y="474.90" textLength="25.28" lengthAdjust="spacingAndGlyphs" font-size="13.8">54o</text>
<rect x="466.55" y="454.20" width="33.2" height="33.2" fill="#84bce6"/><rect x="466.55" y="454.20" width="1.99" height="33.2" fill="#4b9e5e"/><text x="483.15" y="474.90" textLength="16.77" lengthAdjust="spacingAndGlyphs" font-size="14.2">44</text>
<rect x="503.26" y="454.20" width="33.2" height="33.2" fill="#84bce6"/><text x="519.87" y="474.90" textLength="23.19" lengthAdjust="spacingAndGlyphs" font-size="13.8">43s</text>
<rect x="539.98" y="454.20" width="33.2" height="33.2" fill="#84bce6"/><text x="556.58" y="474.90" textLength="23.01" lengthAdjust="spacingAndGlyphs" font-size="13.8">42s</text>
<rect x="99.40" y="490.88" width="33.2" height="33.2" fill="#84bce6"/><text x="116.00" y="511.58" textLength="25.36" lengthAdjust="spacingAndGlyphs" font-size="13.8">A3o</text>
<rect x="136.12" y="490.88" width="33.2" height="33.2" fill="#84bce6"/><text x="152.72" y="511.58" textLength="24.36" lengthAdjust="spacingAndGlyphs" font-size="13.8">K3o</text>
<rect x="172.83" y="490.88" width="33.2" height="33.2" fill="#84bce6"/><text x="189.43" y="511.58" textLength="26.88" lengthAdjust="spacingAndGlyphs" font-size="13.8">Q3o</text>
<rect x="209.55" y="490.88" width="33.2" height="33.2" fill="#84bce6"/><text x="226.15" y="511.58" textLength="23.44" lengthAdjust="spacingAndGlyphs" font-size="13.8">J3o</text>
<rect x="246.26" y="490.88" width="33.2" height="33.2" fill="#84bce6"/><text x="262.86" y="511.58" textLength="23.59" lengthAdjust="spacingAndGlyphs" font-size="13.8">T3o</text>
<rect x="282.98" y="490.88" width="33.2" height="33.2" fill="#84bce6"/><text x="299.58" y="511.58" textLength="24.78" lengthAdjust="spacingAndGlyphs" font-size="13.8">93o</text>
<rect x="319.69" y="490.88" width="33.2" height="33.2" fill="#84bce6"/><text x="336.29" y="511.58" textLength="24.79" lengthAdjust="spacingAndGlyphs" font-size="13.8">83o</text>
<rect x="356.40" y="490.88" width="33.2" height="33.2" fill="#84bce6"/><text x="373.00" y="511.58" textLength="23.66" lengthAdjust="spacingAndGlyphs" font-size="13.8">73o</text>
<rect x="393.12" y="490.88" width="33.2" height="33.2" fill="#84bce6"/><text x="409.72" y="511.58" textLength="24.84" lengthAdjust="spacingAndGlyphs" font-size="13.8">63o</text>
<rect x="429.84" y="490.88" width="33.2" height="33.2" fill="#84bce6"/><text x="446.44" y="511.58" textLength="24.75" lengthAdjust="spacingAndGlyphs" font-size="13.8">53o</text>
<rect x="466.55" y="490.88" width="33.2" height="33.2" fill="#84bce6"/><text x="483.15" y="511.58" textLength="24.76" lengthAdjust="spacingAndGlyphs" font-size="13.8">43o</text>
<rect x="503.26" y="490.88" width="33.2" height="33.2" fill="#84bce6"/><rect x="503.26" y="490.88" width="1.00" height="33.2" fill="#4b9e5e"/><text x="519.87" y="511.58" textLength="15.70" lengthAdjust="spacingAndGlyphs" font-size="14.2">33</text>
<rect x="539.98" y="490.88" width="33.2" height="33.2" fill="#84bce6"/><text x="556.58" y="511.58" textLength="22.47" lengthAdjust="spacingAndGlyphs" font-size="13.8">32s</text>
<rect x="99.40" y="527.56" width="33.2" height="33.2" fill="#84bce6"/><text x="116.00" y="548.26" textLength="25.18" lengthAdjust="spacingAndGlyphs" font-size="13.8">A2o</text>
<rect x="136.12" y="527.56" width="33.2" height="33.2" fill="#84bce6"/><text x="152.72" y="548.26" textLength="24.18" lengthAdjust="spacingAndGlyphs" font-size="13.8">K2o</text>
<rect x="172.83" y="527.56" width="33.2" height="33.2" fill="#84bce6"/><text x="189.43" y="548.26" textLength="26.70" lengthAdjust="spacingAndGlyphs" font-size="13.8">Q2o</text>
<rect x="209.55" y="527.56" width="33.2" height="33.2" fill="#84bce6"/><text x="226.15" y="548.26" textLength="23.26" lengthAdjust="spacingAndGlyphs" font-size="13.8">J2o</text>
<rect x="246.26" y="527.56" width="33.2" height="33.2" fill="#84bce6"/><text x="262.86" y="548.26" textLength="23.41" lengthAdjust="spacingAndGlyphs" font-size="13.8">T2o</text>
<rect x="282.98" y="527.56" width="33.2" height="33.2" fill="#84bce6"/><text x="299.58" y="548.26" textLength="24.59" lengthAdjust="spacingAndGlyphs" font-size="13.8">92o</text>
<rect x="319.69" y="527.56" width="33.2" height="33.2" fill="#84bce6"/><text x="336.29" y="548.26" textLength="24.60" lengthAdjust="spacingAndGlyphs" font-size="13.8">82o</text>
<rect x="356.40" y="527.56" width="33.2" height="33.2" fill="#84bce6"/><text x="373.00" y="548.26" textLength="23.47" lengthAdjust="spacingAndGlyphs" font-size="13.8">72o</text>
<rect x="393.12" y="527.56" width="33.2" height="33.2" fill="#84bce6"/><text x="409.72" y="548.26" textLength="24.66" lengthAdjust="spacingAndGlyphs" font-size="13.8">62o</text>
<rect x="429.84" y="527.56" width="33.2" height="33.2" fill="#84bce6"/><text x="446.44" y="548.26" textLength="24.56" lengthAdjust="spacingAndGlyphs" font-size="13.8">52o</text>
<rect x="466.55" y="527.56" width="33.2" height="33.2" fill="#84bce6"/><text x="483.15" y="548.26" textLength="24.58" lengthAdjust="spacingAndGlyphs" font-size="13.8">42o</text>
<rect x="503.26" y="527.56" width="33.2" height="33.2" fill="#84bce6"/><text x="519.87" y="548.26" textLength="24.05" lengthAdjust="spacingAndGlyphs" font-size="13.8">32o</text>
<rect x="539.98" y="527.56" width="33.2" height="33.2" fill="#84bce6"/><rect x="539.98" y="527.56" width="7.14" height="33.2" fill="#4b9e5e"/><rect x="539.98" y="527.56" width="3.92" height="33.2" fill="#f8c470"/><text x="556.58" y="548.26" textLength="15.33" lengthAdjust="spacingAndGlyphs" font-size="14.2">22</text>
</g>
<g font-size="13.7" fill="#fff" stroke="#fff" stroke-width="0.3"><text x="697.30" y="26.2" textLength="78.80" lengthAdjust="spacingAndGlyphs">Game Type</text><text x="697.40" y="104.8" textLength="67.40" lengthAdjust="spacingAndGlyphs">Stack Size</text><text x="697.00" y="198.4" textLength="88.60" lengthAdjust="spacingAndGlyphs">Hero Position</text><text x="697.50" y="347.3" textLength="50.40" lengthAdjust="spacingAndGlyphs">Actions</text><text x="697.00" y="475.9" textLength="97.40" lengthAdjust="spacingAndGlyphs">Villain Position</text></g>
<rect x="697.60" y="39.80" width="104.10" height="32.70" rx="1.8" fill="#212121" stroke="#505050" stroke-width="1.2"/><rect x="804.50" y="39.80" width="104.10" height="32.70" rx="1.8" fill="#212121" stroke="#505050" stroke-width="1.2"/><rect x="911.10" y="39.50" width="104.70" height="33.30" rx="1.5" fill="#ff9513"/><rect x="697.70" y="118.30" width="62.60" height="48.50" rx="1.8" fill="#212121" stroke="#505050" stroke-width="1.2"/><rect x="761.70" y="118.00" width="62.40" height="49.00" rx="1.5" fill="#ff9513"/><rect x="697.60" y="212.30" width="78.10" height="32.20" rx="1.8" fill="#212121" stroke="#505050" stroke-width="1.2"/><rect x="777.70" y="212.30" width="78.10" height="32.20" rx="1.8" fill="#212121" stroke="#505050" stroke-width="1.2"/><rect x="857.80" y="212.30" width="78.10" height="32.20" rx="1.8" fill="#212121" stroke="#505050" stroke-width="1.2"/><rect x="937.90" y="212.30" width="78.10" height="32.20" rx="1.8" fill="#212121" stroke="#505050" stroke-width="1.2"/><rect x="697.30" y="247.30" width="78.70" height="32.80" rx="1.5" fill="#ff9513"/><rect x="777.70" y="247.60" width="78.10" height="32.20" rx="1.8" fill="#212121" stroke="#505050" stroke-width="1.2"/><rect x="857.80" y="247.60" width="78.10" height="32.20" rx="1.8" fill="#212121" stroke="#505050" stroke-width="1.2"/><rect x="937.90" y="247.60" width="78.10" height="32.20" rx="1.8" fill="#212121" stroke="#505050" stroke-width="1.2"/><rect x="697.60" y="282.70" width="78.10" height="32.20" rx="1.8" fill="#212121" stroke="#505050" stroke-width="1.2"/><rect x="697.60" y="360.70" width="78.10" height="32.10" rx="1.8" fill="#212121" stroke="#505050" stroke-width="1.2"/><rect x="777.40" y="360.40" width="78.70" height="32.70" rx="1.5" fill="#ff9513"/><rect x="857.80" y="360.70" width="78.10" height="32.10" rx="1.8" fill="#212121" stroke="#505050" stroke-width="1.2"/><rect x="937.90" y="360.70" width="78.10" height="32.10" rx="1.8" fill="#212121" stroke="#505050" stroke-width="1.2"/><rect x="697.60" y="395.90" width="78.10" height="48.10" rx="1.8" fill="#212121" stroke="#505050" stroke-width="1.2"/><rect x="777.70" y="395.90" width="78.10" height="48.10" rx="1.8" fill="#212121" stroke="#505050" stroke-width="1.2"/><rect x="697.60" y="489.60" width="78.10" height="33.10" rx="1.8" fill="#212121" stroke="#505050" stroke-width="1.2"/><rect x="777.40" y="489.30" width="78.70" height="33.70" rx="1.5" fill="#ff9513"/><rect x="857.80" y="489.60" width="78.10" height="33.10" rx="1.8" fill="#212121" stroke="#505050" stroke-width="1.2"/><rect x="937.90" y="489.60" width="78.10" height="33.10" rx="1.8" fill="#212121" stroke="#505050" stroke-width="1.2"/>
<g font-size="14.3" text-anchor="middle" fill="#fff" stroke="#fff" stroke-width="0.15"><text transform="translate(749.65 60.55) scale(0.951 1)">Tournaments</text><text transform="translate(856.55 60.55) scale(0.951 1)">Cash 6 Max</text><text transform="translate(729.00 139.45) scale(0.951 1)">100</text><text transform="translate(729.00 154.45) scale(0.951 1)">BB</text><text transform="translate(736.65 232.80) scale(0.951 1)">UTG</text><text transform="translate(816.75 232.80) scale(0.951 1)">UTG+1</text><text transform="translate(896.85 232.80) scale(0.951 1)">UTG+2</text><text transform="translate(976.95 232.80) scale(0.951 1)">LJ</text><text transform="translate(816.75 268.10) scale(0.951 1)">CO</text><text transform="translate(896.85 268.10) scale(0.951 1)">BTN</text><text transform="translate(976.95 268.10) scale(0.951 1)">SB</text><text transform="translate(736.65 303.20) scale(0.951 1)">BB</text><text transform="translate(736.65 381.15) scale(0.951 1)">RFI</text><text transform="translate(896.85 381.15) scale(0.951 1)">vs 3bet</text><text transform="translate(976.95 381.15) scale(0.951 1)">vs 4bet</text><text transform="translate(736.65 424.35) scale(0.951 1)">vs 5bet</text><text transform="translate(816.75 416.85) scale(0.951 1)">vs 6bet</text><text transform="translate(816.75 431.85) scale(0.951 1)">all-in</text><text transform="translate(736.65 510.55) scale(0.951 1)">UTG</text><text transform="translate(896.85 510.55) scale(0.951 1)">UTG+2</text><text transform="translate(976.95 510.55) scale(0.951 1)">LJ</text></g>
<g font-size="14.3" text-anchor="middle" fill="#24160a" stroke="#24160a" stroke-width="0.15"><text transform="translate(963.45 60.55) scale(0.951 1)">Cash 9 Max</text><text transform="translate(792.90 139.40) scale(0.951 1)">200</text><text transform="translate(792.90 154.40) scale(0.951 1)">BB</text><text transform="translate(736.65 268.10) scale(0.951 1)">HJ</text><text transform="translate(816.75 381.15) scale(0.951 1)">vs Raise</text><text transform="translate(816.75 510.55) scale(0.951 1)">UTG+1</text></g>
</svg>
</body></html>
